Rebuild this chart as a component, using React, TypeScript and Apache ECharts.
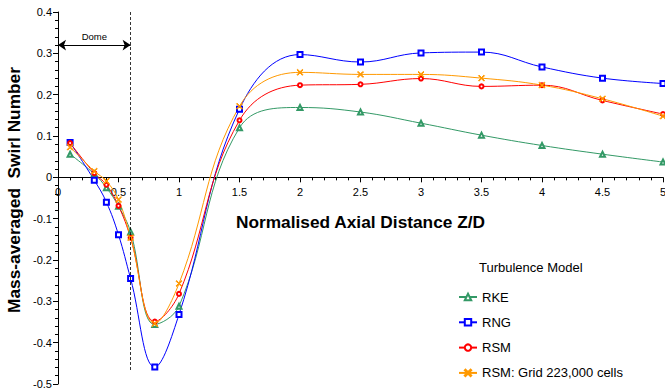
import React, { useEffect, useRef } from "react";
import * as echarts from "echarts";

const zd = [0.1, 0.3, 0.4, 0.5, 0.6, 0.8, 1.0, 1.5, 2, 2.5, 3, 3.5, 4, 4.5, 5];
const rke = [0.056, 0.008, -0.025, -0.07, -0.132, -0.356, -0.312, 0.12, 0.169, 0.158, 0.131, 0.102, 0.077, 0.056, 0.037];
const rng = [0.084, -0.007, -0.06, -0.139, -0.245, -0.459, -0.332, 0.165, 0.297, 0.279, 0.301, 0.303, 0.267, 0.24, 0.227];
const rsm = [0.083, 0.01, -0.018, -0.069, -0.146, -0.349, -0.282, 0.138, 0.223, 0.225, 0.239, 0.22, 0.223, 0.186, 0.153];
const rsmGrid = [0.073, 0.015, -0.009, -0.054, -0.146, -0.354, -0.257, 0.172, 0.254, 0.249, 0.249, 0.24, 0.223, 0.19, 0.148];
const seriesNames = ["RKE", "RNG", "RSM", "RSM: Grid 223,000 cells"];
const domeEnd = 0.6;
const domeArrowY = 0.32;
const yMin = -0.5;
const yMax = 0.4;

const FONT = "Liberation Sans, Arial, sans-serif";
const xMark = "path://M0,1L1,0L5,4L9,0L10,1L6,5L10,9L9,10L5,6L1,10L0,9L4,5Z";

const GRID_TOP = 12;
const GRID_BOTTOM = 8;
const H = 392;

function pairs(ys: number[]) {
  return zd.map((x, i) => [x, ys[i]]);
}

export default function App() {
  const ref = useRef<HTMLDivElement>(null);
  useEffect(() => {
    if (!ref.current) return;
    const chart = echarts.init(ref.current, null, { renderer: "svg" });
    const plotH = H - GRID_TOP - GRID_BOTTOM;
    const zeroPx = GRID_TOP + (yMax / (yMax - yMin)) * plotH;
    const xAxisOffset = -(H - GRID_BOTTOM - zeroPx);
    const mk = (name: string, data: number[], color: string, symbol: string, size: number, extra: any = {}) => ({
      name,
      type: "line",
      data: pairs(data),
      smooth: 0.4,
      symbol,
      symbolSize: size,
      lineStyle: { color, width: 1 },
      itemStyle: { color, borderColor: color, borderWidth: 1 },
      ...extra,
    });
    chart.setOption({
      animation: false,
      backgroundColor: "#fff",
      textStyle: { fontFamily: FONT },
      title: {
        text: "Turbulence Model",
        left: 479,
        top: 261,
        padding: 0,
        textStyle: { fontSize: 13, fontWeight: "normal", color: "#000", fontFamily: FONT },
      },
      legend: {
        data: seriesNames,
        orient: "vertical",
        left: 458,
        top: 289,
        padding: 0,
        itemWidth: 18,
        itemHeight: 8,
        itemGap: 9.3,
        textStyle: { fontSize: 13, lineHeight: 16, color: "#000", fontFamily: FONT },
      },
      grid: { left: 58, right: 2, top: GRID_TOP, bottom: GRID_BOTTOM, containLabel: false, outerBoundsMode: "none" },
      xAxis: {
        type: "value",
        min: 0,
        max: 5,
        interval: 0.5,
        offset: xAxisOffset,
        name: "Normalised Axial Distance Z/D",
        nameLocation: "middle",
        nameGap: 36,
        nameTextStyle: { fontSize: 17.3, fontWeight: "bold", color: "#000", fontFamily: FONT },
        axisLine: { show: true, onZero: false, lineStyle: { color: "#000", width: 1 } },
        axisTick: { show: true, length: 5, lineStyle: { color: "#000" } },
        minorTick: { show: true, splitNumber: 5, length: 3, lineStyle: { color: "#000" } },
        axisLabel: { fontSize: 11, color: "#000", margin: 9, fontFamily: FONT },
        splitLine: { show: false },
      },
      yAxis: {
        type: "value",
        min: yMin,
        max: yMax,
        interval: 0.1,
        name: "Mass-averaged  Swirl Number",
        nameLocation: "middle",
        nameGap: 31,
        nameTextStyle: { fontSize: 17.3, fontWeight: "bold", color: "#000", fontFamily: FONT, padding: [0, 0, 0, 16] },
        axisLine: { show: true, onZero: false, lineStyle: { color: "#000", width: 1 } },
        axisTick: { show: true, length: 5, lineStyle: { color: "#000" } },
        minorTick: { show: true, splitNumber: 5, length: 3, lineStyle: { color: "#000" } },
        axisLabel: { fontSize: 11, color: "#000", margin: 6, fontFamily: FONT },
        splitLine: { show: false },
      },
      series: [
        mk(seriesNames[0], rke, "#339966", "emptyTriangle", 5, {
          markLine: {
            silent: true,
            animation: false,
            symbol: ["arrow", "arrow"],
            symbolSize: 8,
            data: [
              [
                {
                  coord: [0, domeArrowY],
                  lineStyle: { color: "#000", width: 1.2, type: "solid" },
                  label: { show: true, formatter: "Dome", position: "middle", fontSize: 9.5, color: "#000", distance: 4 },
                },
                { coord: [domeEnd, domeArrowY] },
              ],
              [
                {
                  coord: [domeEnd, yMax],
                  symbol: "none",
                  lineStyle: { color: "#000", width: 0.8, type: [3, 2] },
                  label: { show: false },
                },
                { coord: [domeEnd, -0.47], symbol: "none" },
              ],
            ],
          },
        }),
        mk(seriesNames[1], rng, "#0000ff", "emptyRect", 5),
        mk(seriesNames[2], rsm, "#ff0000", "emptyCircle", 4),
        mk(seriesNames[3], rsmGrid, "#ff9900", xMark, 6),
      ],
    });
    return () => chart.dispose();
  }, []);
  return (
    <div
      ref={ref}
      style={{ position: "fixed", left: 0, top: 0, width: 665, height: 392, background: "#fff" }}
    />
  );
}
